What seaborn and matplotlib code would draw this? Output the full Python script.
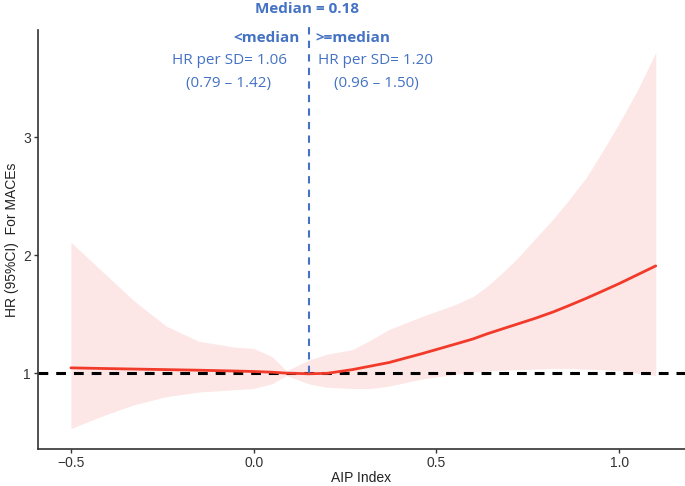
import matplotlib
matplotlib.use("Agg")
import matplotlib.pyplot as plt
import seaborn as sns
import pandas as pd

# values
aip = [-0.5, -0.42, -0.33, -0.24, -0.15, -0.05, 0.0, 0.05, 0.09, 0.15, 0.2,
       0.27, 0.32, 0.37, 0.46, 0.55, 0.6, 0.64, 0.68, 0.72, 0.77, 0.82, 0.86,
       0.91, 0.95, 1.0, 1.05, 1.1]
hr = [1.045, 1.04, 1.035, 1.03, 1.025, 1.018, 1.014, 1.008, 1.0, 0.995, 0.998,
      1.03, 1.06, 1.09, 1.165, 1.245, 1.29, 1.335, 1.375, 1.415, 1.465, 1.52,
      1.57, 1.635, 1.69, 1.76, 1.835, 1.91]
upper = [2.11, 1.88, 1.62, 1.40, 1.27, 1.22, 1.21, 1.14, 1.02, 1.11, 1.16,
         1.20, 1.28, 1.37, 1.48, 1.58, 1.65, 1.74, 1.85, 1.97, 2.14, 2.31, 2.46,
         2.66, 2.86, 3.12, 3.40, 3.72]
lower = [0.53, 0.63, 0.73, 0.80, 0.84, 0.86, 0.87, 0.91, 0.98, 0.91, 0.88,
         0.87, 0.87, 0.89, 0.95, 0.99, 1.01, 1.02, 1.025, 1.03, 1.035, 1.04,
         1.04, 1.035, 1.03, 1.02, 1.0, 0.98]
median_pos = 0.15
x_ticks = [-0.5, 0.0, 0.5, 1.0]
y_ticks = [1, 2, 3]

BLUE = "#4472C4"
RED = "#F23A2A"

sns.set_style("ticks")
plt.rcParams['font.family'] = ['Liberation Sans', 'DejaVu Sans']

df = pd.DataFrame({'aip': aip, 'hr': hr, 'lower': lower, 'upper': upper})

fig = plt.figure(figsize=(6.85, 4.86), dpi=100)
ax = fig.add_axes([0.0555, 0.076, 0.9445, 0.862])

ax.fill_between(df['aip'], df['lower'], df['upper'], color="#FDE6E6", lw=0, zorder=1)
sns.lineplot(data=df, x='aip', y='hr', color=RED, lw=2, ax=ax, zorder=3)
ax.axhline(1, color='black', ls=(0, (3.2, 2.6)), lw=2.2, zorder=2)
ax.plot([median_pos, median_pos], [1.0, 3.98], color=BLUE, ls=(0, (3.5, 3)),
        lw=1.5, clip_on=False, zorder=4)

ax.set_xlim(-0.59, 1.18)
ax.set_ylim(0.356, 3.91)
ax.set_xticks(x_ticks)
ax.set_xticklabels(['\u22120.5', '0.0', '0.5', '1.0'])
ax.set_yticks(y_ticks)
ax.tick_params(colors='#333333', labelsize=10, length=3, width=1, pad=2)
for s in ['top', 'right']:
    ax.spines[s].set_visible(False)
for s in ['left', 'bottom']:
    ax.spines[s].set_color('#333333')
    ax.spines[s].set_linewidth(1.2)

ax.set_xlabel('AIP Index', fontsize=10, color='#222222', labelpad=1)
ax.set_ylabel('HR (95%CI)  For MACEs', fontsize=10, color='#222222', labelpad=3)

# annotations above the plot
tf = ['Open Sans', 'DejaVu Sans']
fig.text(307 / 685, 1 - 9 / 486, 'Median = 0.18', color=BLUE, fontsize=11,
         fontweight='bold', ha='center', va='center', family=tf)
fig.text(300 / 685, 1 - 38 / 486, '<median', color=BLUE, fontsize=11,
         fontweight='bold', ha='right', va='center', family=tf)
fig.text(315 / 685, 1 - 38 / 486, '>=median', color=BLUE, fontsize=11,
         fontweight='bold', ha='left', va='center', family=tf)
fig.text(229 / 685, 1 - 60 / 486, 'HR per SD= 1.06', color=BLUE, fontsize=11,
         ha='center', va='center', family=tf)
fig.text(229 / 685, 1 - 83 / 486, '(0.79 \u2013 1.42)', color=BLUE, fontsize=11,
         ha='center', va='center', family=tf)
fig.text(376 / 685, 1 - 60 / 486, 'HR per SD= 1.20', color=BLUE, fontsize=11,
         ha='center', va='center', family=tf)
fig.text(376 / 685, 1 - 83 / 486, '(0.96 \u2013 1.50)', color=BLUE, fontsize=11,
         ha='center', va='center', family=tf)

fig.savefig('out.png', dpi=100)
